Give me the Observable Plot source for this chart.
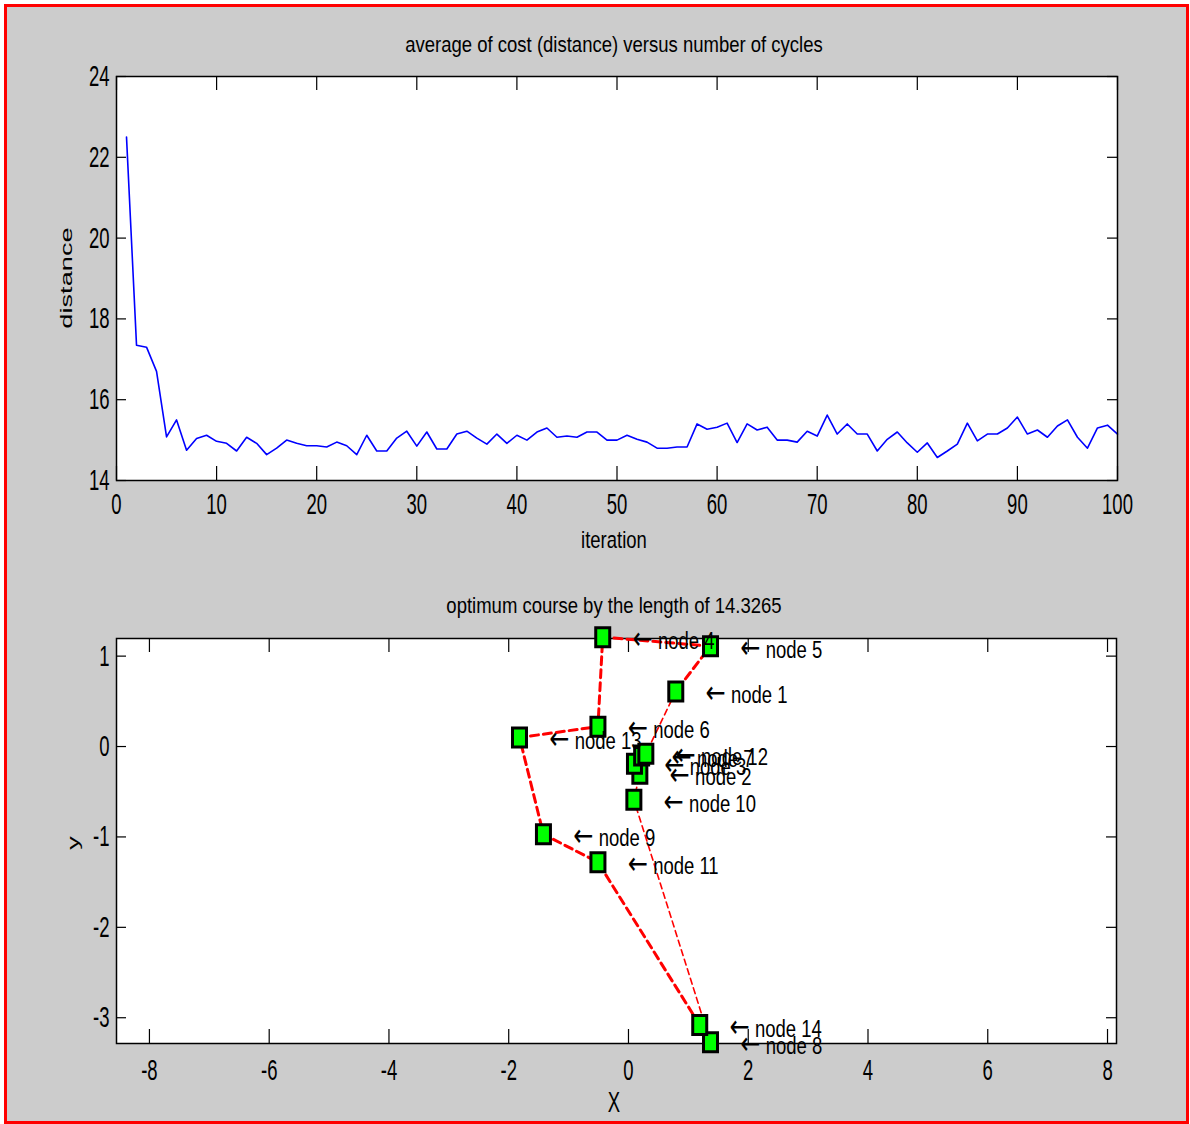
<!DOCTYPE html>
<html>
<head>
<meta charset="utf-8">
<script src="https://cdn.jsdelivr.net/npm/d3@7"></script>
<script src="https://cdn.jsdelivr.net/npm/@observablehq/plot@0.6"></script>
<style>
html, body { margin: 0; padding: 0; background: #ffffff; width: 1190px; height: 1124px; overflow: hidden; }
#fig { position: absolute; left: 4px; top: 4px; width: 1185px; height: 1120px; box-sizing: border-box; border: 3px solid #ff0000; background: #cccccc; }
.plot { position: absolute; left: 0; }
.lbl { position: absolute; font-family: "Liberation Sans", Arial, sans-serif; font-size: 18.5px; line-height: 1; color: #000; white-space: nowrap; transform-origin: center center; }
</style>
</head>
<body>
<div id="fig"></div>
<div id="p1" class="plot" style="top:0px"></div>
<div id="p2" class="plot" style="top:580px"></div>
<div class="lbl" style="left:614px;top:45px;transform:translate(-50%,-50%) scale(1,1.2)">average of cost (distance) versus number of cycles</div>
<div class="lbl" style="left:614px;top:541px;transform:translate(-50%,-50%) scale(1,1.3)">iteration</div>
<div class="lbl" style="left:66px;top:278px;font-size:17px;transform:translate(-50%,-50%) rotate(-90deg) scale(1.6,1)">distance</div>
<div class="lbl" style="left:614px;top:606px;transform:translate(-50%,-50%) scale(1,1.2)">optimum course by the length of 14.3265</div>
<div class="lbl" style="left:614px;top:1103px;transform:translate(-50%,-50%) scale(1,1.6)">X</div>
<div class="lbl" style="left:73px;top:843px;font-size:17px;transform:translate(-50%,-50%) rotate(-90deg) scale(1.6,1)">y</div>
<script>
// ---- Data: top chart (average cost per iteration 1..100) ----
const avgCost = [
  22.5, 17.35, 17.3, 16.7, 15.08, 15.5, 14.75, 15.04, 15.12, 14.97,
  14.92, 14.73, 15.07, 14.92, 14.64, 14.8, 15.0, 14.92, 14.86, 14.86,
  14.83, 14.95, 14.86, 14.64, 15.12, 14.73, 14.73, 15.05, 15.22, 14.85,
  15.2, 14.78, 14.78, 15.15, 15.22, 15.05, 14.9, 15.15, 14.92, 15.12,
  15.0, 15.2, 15.3, 15.07, 15.1, 15.07, 15.2, 15.2, 15.0, 15.0,
  15.12, 15.02, 14.95, 14.8, 14.8, 14.83, 14.83, 15.4, 15.27, 15.32,
  15.42, 14.94, 15.4, 15.25, 15.32, 15.0, 15.0, 14.95, 15.22, 15.1,
  15.62, 15.15, 15.4, 15.15, 15.15, 14.73, 15.02, 15.2, 14.93, 14.7,
  14.93, 14.57, 14.73, 14.9, 15.42, 14.98, 15.15, 15.15, 15.3, 15.57,
  15.15, 15.25, 15.07, 15.35, 15.5, 15.07, 14.8, 15.3, 15.37, 15.15
];
const xTicks1 = [0, 10, 20, 30, 40, 50, 60, 70, 80, 90, 100];
const yTicks1 = [14, 16, 18, 20, 22, 24];

// ---- Data: bottom chart (node positions and tour) ----
const nodeIds = [1, 2, 3, 4, 5, 6, 7, 8, 9, 10, 11, 12, 13, 14];
const nodeX   = [0.79, 0.19, 0.10, -0.43, 1.37, -0.51, 0.22, 1.37, -1.42, 0.09, -0.51, 0.29, -1.82, 1.19];
const nodeY   = [0.61, -0.30, -0.19, 1.21, 1.11, 0.22, -0.10, -3.27, -0.97, -0.59, -1.28, -0.08, 0.10, -3.08];
const tourOrder = [4, 5, 1, 12, 7, 3, 2, 10, 8, 14, 11, 9, 13, 6, 4];
const xTicks2 = [-8, -6, -4, -2, 0, 2, 4, 6, 8];
const yTicks2 = [-3, -2, -1, 0, 1];

const FONT = "Liberation Sans, Arial, sans-serif";
const SVGNS = "http://www.w3.org/2000/svg";

function stretch(svg, selector, sx, sy) {
  svg.querySelectorAll(selector).forEach(t => {
    const tr = t.getAttribute("transform") || "";
    t.setAttribute("transform", tr + ` scale(${sx},${sy})`);
  });
}

// ---- Top chart ----
{
  const W = 1190, H = 560, mL = 116, mR = 73, mT = 76, mB = 80;
  const pw = W - mL - mR, ph = H - mT - mB;
  const p1 = Plot.plot({
    width: W, height: H,
    marginLeft: mL, marginRight: mR, marginTop: mT, marginBottom: mB,
    style: {background: "transparent", fontFamily: FONT, fontSize: "18.5px", color: "#000"},
    x: {domain: [0, 100]},
    y: {domain: [14, 24]},
    marks: [
      Plot.frame({fill: "#ffffff"}),
      Plot.ruleX(xTicks1, {x: d => d, insetTop: ph - 14, stroke: "#000", strokeWidth: 1.2}),
      Plot.ruleX(xTicks1, {x: d => d, insetBottom: ph - 14, stroke: "#000", strokeWidth: 1.2}),
      Plot.ruleY(yTicks1, {y: d => d, insetRight: pw - 10, stroke: "#000", strokeWidth: 1.2}),
      Plot.ruleY(yTicks1, {y: d => d, insetLeft: pw - 10, stroke: "#000", strokeWidth: 1.2}),
      Plot.line(avgCost, {x: (d, i) => i + 1, y: d => d, stroke: "#0000ff", strokeWidth: 1.6}),
      Plot.frame({stroke: "#000", strokeWidth: 1.5}),
      Plot.axisX({ticks: xTicks1, tickSize: 0, tickPadding: 12, label: null, tickFormat: d => String(d)}),
      Plot.axisY({ticks: yTicks1, tickSize: 0, tickPadding: 7, label: null, tickFormat: d => String(d)})
    ]
  });
  stretch(p1, 'g[aria-label="x-axis tick label"] text', 1, 1.6);
  stretch(p1, 'g[aria-label="y-axis tick label"] text', 1, 1.6);
  document.getElementById("p1").appendChild(p1);
}

// ---- Bottom chart ----
{
  const W = 1190, H = 544, mL = 116, mR = 74, mT = 58, mB = 81;
  const pw = W - mL - mR, ph = H - mT - mB;
  const nodes = nodeIds.map((id, i) => ({id, x: nodeX[i], y: nodeY[i]}));
  const byId = new Map(nodes.map(d => [d.id, d]));
  const tour = tourOrder.map(id => byId.get(id));
  const thickPath = tour.slice(9).concat(tour.slice(1, 3)); // 14 → 11 → 9 → 13 → 6 → 4 → 5 → 1
  const thinPath = tour.slice(2, 10);                       // 1 → 12 → 7 → 3 → 2 → 10 → 8 → 14
  const rectSymbol = {
    draw(ctx) {
      const w = 14, h = 19;
      ctx.moveTo(-w / 2, -h / 2);
      ctx.lineTo(w / 2, -h / 2);
      ctx.lineTo(w / 2, h / 2);
      ctx.lineTo(-w / 2, h / 2);
      ctx.closePath();
    }
  };
  const p2 = Plot.plot({
    width: W, height: H,
    marginLeft: mL, marginRight: mR, marginTop: mT, marginBottom: mB,
    style: {background: "transparent", fontFamily: FONT, fontSize: "18.5px", color: "#000", overflow: "visible"},
    x: {domain: [-8.55, 8.15]},
    y: {domain: [-3.285, 1.195]},
    marks: [
      Plot.frame({fill: "#ffffff"}),
      Plot.ruleX(xTicks2, {x: d => d, insetTop: ph - 14, stroke: "#000", strokeWidth: 1.2}),
      Plot.ruleX(xTicks2, {x: d => d, insetBottom: ph - 14, stroke: "#000", strokeWidth: 1.2}),
      Plot.ruleY(yTicks2, {y: d => d, insetRight: pw - 10, stroke: "#000", strokeWidth: 1.2}),
      Plot.ruleY(yTicks2, {y: d => d, insetLeft: pw - 10, stroke: "#000", strokeWidth: 1.2}),
      Plot.frame({stroke: "#000", strokeWidth: 1.5}),
      Plot.line(thickPath, {x: "x", y: "y", stroke: "#ff0000", strokeWidth: 3, strokeDasharray: "8,5"}),
      Plot.line(thinPath, {x: "x", y: "y", stroke: "#ff0000", strokeWidth: 1.6, strokeDasharray: "6,4"}),
      Plot.dot(nodes, {x: "x", y: "y", symbol: rectSymbol, r: 8, fill: "#00ff00", stroke: "#000", strokeWidth: 3}),
      Plot.text(nodes, {x: "x", y: "y", text: d => "\u2190 node " + d.id, textAnchor: "start", dx: 30, dy: 4, fill: "#000"}),
      Plot.axisX({ticks: xTicks2, tickSize: 0, tickPadding: 15, label: null, tickFormat: d => String(d)}),
      Plot.axisY({ticks: yTicks2, tickSize: 0, tickPadding: 7, label: null, tickFormat: d => String(d)})
    ]
  });
  stretch(p2, 'g[aria-label="x-axis tick label"] text', 1, 1.6);
  stretch(p2, 'g[aria-label="y-axis tick label"] text', 1, 1.6);
  // node labels: larger arrow glyph, text stretched like the reference
  p2.querySelectorAll('g[aria-label="text"] text').forEach(t => {
    const s = t.textContent;
    t.textContent = "";
    const a = document.createElementNS(SVGNS, "tspan");
    a.setAttribute("font-family", "DejaVu Sans");
    a.setAttribute("font-size", "24");
    a.textContent = s.slice(0, 1);
    const b = document.createElementNS(SVGNS, "tspan");
    b.textContent = s.slice(1);
    t.append(a, b);
  });
  stretch(p2, 'g[aria-label="text"] text', 1, 1.3);
  document.getElementById("p2").appendChild(p2);
}
</script>
</body>
</html>
